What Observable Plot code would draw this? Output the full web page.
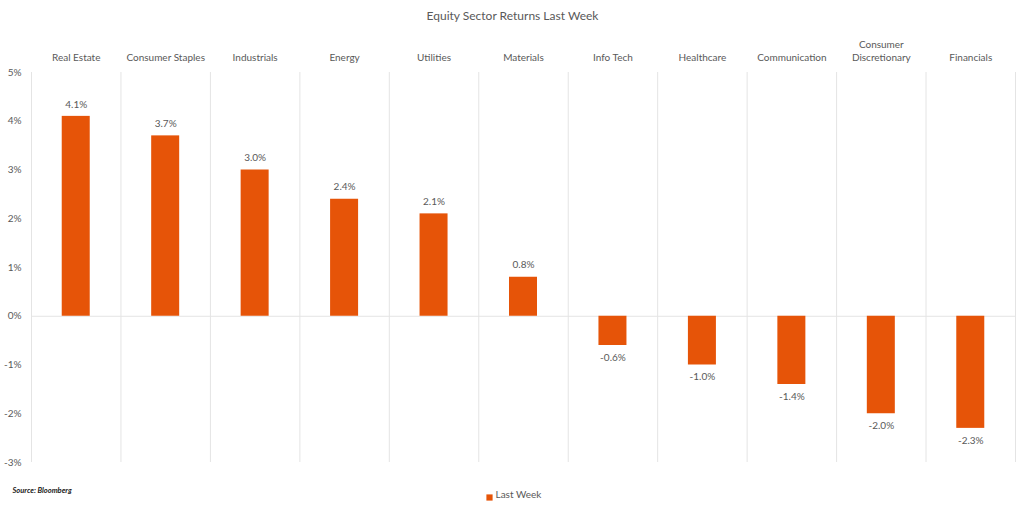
<!DOCTYPE html>
<html>
<head>
<meta charset="utf-8">
<script src="https://cdn.jsdelivr.net/npm/d3@7"></script>
<script src="https://cdn.jsdelivr.net/npm/@observablehq/plot@0.6"></script>
<style>
  html, body { margin: 0; padding: 0; background: #fff; }
  #chart svg { display: block; }
</style>
</head>
<body>
<div id="chart"></div>
<script>
const sectors = ["Real Estate", "Consumer Staples", "Industrials", "Energy", "Utilities", "Materials", "Info Tech", "Healthcare", "Communication", "Consumer Discretionary", "Financials"];
const returns = [4.1, 3.7, 3.0, 2.4, 2.1, 0.8, -0.6, -1.0, -1.4, -2.0, -2.3];
const yTicks = [-3, -2, -1, 0, 1, 2, 3, 4, 5];
const title = "Equity Sector Returns Last Week";
const seriesName = "Last Week";
const source = "Source: Bloomberg";

const data = sectors.map((s, i) => ({sector: s, value: returns[i]}));
const pos = data.filter(d => d.value >= 0);
const neg = data.filter(d => d.value < 0);
const barColor = "#E65408";
const textColor = "#595959";
const gridColor = "#E4E4E4";
const W = 1024, H = 510, mL = 31, mR = 9, mT = 72, mB = 48;
const step = (W - mL - mR) / sectors.length;
const barW = 28;
const inset = (step - barW) / 2;
const fmt = d => d.value.toFixed(1) + "%";

const chart = Plot.plot({
  width: W,
  height: H,
  marginTop: mT,
  marginBottom: mB,
  marginLeft: mL,
  marginRight: mR,
  style: {fontFamily: "Lato, 'Open Sans', sans-serif", fontSize: "10px", color: textColor, background: "#fff"},
  x: {domain: sectors, padding: 0, round: false, axis: null},
  y: {domain: [-3, 5], axis: null},
  marks: [
    // vertical gridlines at category boundaries
    Plot.ruleX(sectors, {x: d => d, dx: -step / 2, stroke: gridColor, strokeWidth: 1}),
    Plot.ruleX([sectors[sectors.length - 1]], {x: d => d, dx: step / 2, stroke: gridColor, strokeWidth: 1}),
    // zero line
    Plot.ruleY([0], {stroke: gridColor, strokeWidth: 1}),
    // bars
    Plot.barY(data, {x: "sector", y: "value", fill: barColor, insetLeft: inset, insetRight: inset}),
    // value labels
    Plot.text(pos, {x: "sector", y: "value", text: fmt, dy: -12, fill: textColor, fontSize: 10}),
    Plot.text(neg, {x: "sector", y: "value", text: fmt, dy: 12, fill: textColor, fontSize: 10}),
    // top category axis
    Plot.axisX({anchor: "top", tickSize: 0, tickPadding: 12, label: null, lineHeight: 1.3,
      tickFormat: d => d === "Consumer Discretionary" ? "Consumer\nDiscretionary" : d,
      fill: textColor, fontSize: 10}),
    // y axis labels
    Plot.axisY(yTicks, {anchor: "left", tickSize: 0, tickPadding: 10, label: null,
      tickFormat: d => d + "%", fill: textColor, fontSize: 10}),
    // title
    Plot.text([title], {frameAnchor: "top", dx: -11, dy: -61, fill: textColor, fontSize: 12}),
    // source
    Plot.text([source], {frameAnchor: "bottom-left", dx: -19, dy: 30, textAnchor: "start",
      fill: "#222", fontSize: 7.5, fontStyle: "italic", fontWeight: "bold"}),
    // legend
    Plot.dot([seriesName], {frameAnchor: "bottom", dx: -34, dy: 35, symbol: "square", r: 3.5, fill: barColor, stroke: null}),
    Plot.text([seriesName], {frameAnchor: "bottom", dx: -28, dy: 35, textAnchor: "start", fill: textColor, fontSize: 10})
  ]
});
document.getElementById("chart").appendChild(chart);
</script>
</body>
</html>
